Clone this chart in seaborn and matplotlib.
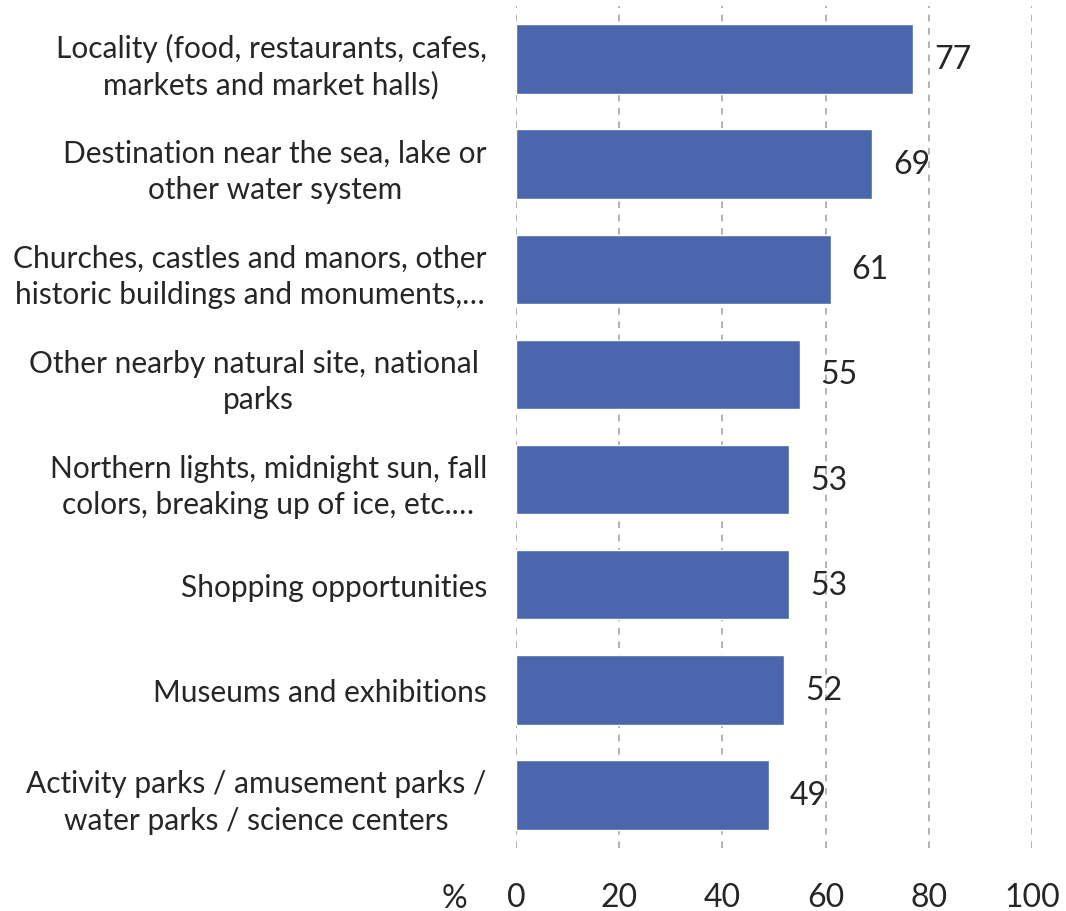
import numpy as np
import pandas as pd
import matplotlib.pyplot as plt
import seaborn as sns

categories = [
    "Locality (food, restaurants, cafes,\nmarkets and market halls)",
    "Destination near the sea, lake or\nother water system",
    "Churches, castles and manors, other\nhistoric buildings and monuments,…",
    "Other nearby natural site, national \nparks",
    "Northern lights, midnight sun, fall\ncolors, breaking up of ice, etc.…",
    "Shopping opportunities",
    "Museums and exhibitions",
    "Activity parks / amusement parks /\nwater parks / science centers",
]
values = [77, 69, 61, 55, 53, 53, 52, 49]
xticks = [0, 20, 40, 60, 80, 100]

df = pd.DataFrame({"cat": categories, "val": values})

sns.set_style("white")
plt.rcParams["font.family"] = ["Lato", "DejaVu Sans"]

fig = plt.figure(figsize=(10.66, 9.12), dpi=100)
ax = fig.add_axes([0.484, 0.0696, 0.484, 0.9222])

sns.barplot(data=df, x="val", y="cat", color="#4a67ad", width=0.66,
            saturation=1, ax=ax, zorder=3)

ax.set_xlim(0, 100)
ax.set_ylim(7.5, -0.5)
ax.set_xticks(xticks)
ax.set_xlabel("")
ax.set_ylabel("")
ax.grid(axis="x", color="#a6a6a6", linestyle=(0, (4, 4)), linewidth=1.2, zorder=0)
ax.grid(axis="y", visible=False)
for s in ax.spines.values():
    s.set_visible(False)

ax.tick_params(axis="y", length=0, pad=21, labelsize=21.5, labelcolor="#262626")
ax.tick_params(axis="x", length=0, pad=25, labelsize=23, labelcolor="#262626")
for t in ax.get_yticklabels():
    t.set_multialignment("center")
    t.set_linespacing(1.35)

ax.bar_label(ax.containers[0], labels=[str(v) for v in values], padding=15,
             fontsize=23, color="#262626")

# % sign left of the x ticks, same baseline
ax.text(-12, -0.042, "%", transform=ax.get_xaxis_transform(), fontsize=23,
        color="#262626", ha="center", va="top")

fig.savefig("out.png", dpi=100)
